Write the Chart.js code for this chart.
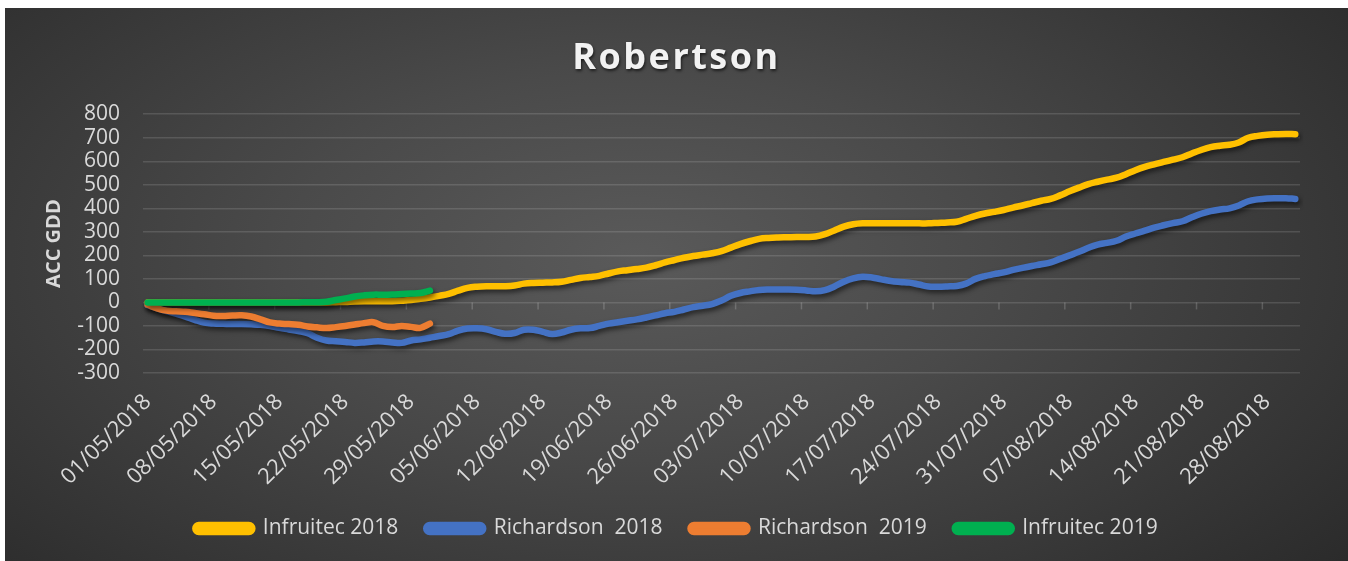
<!DOCTYPE html>
<html>
<head>
<meta charset="utf-8">
<script src="https://cdn.jsdelivr.net/npm/chart.js@4"></script>
<style>
  html, body { margin: 0; padding: 0; background: #ffffff; }
  #wrap {
    position: absolute; left: 5px; top: 8px; width: 1343px; height: 553px;
    background: radial-gradient(ellipse 75% 95% at 47% 45%, #5a5a5a 0%, #4a4a4a 35%, #262626 100%);
  }
</style>
</head>
<body>
<div id="wrap"><canvas id="gddChart"></canvas></div>
<script>
// Daily categories 01/05/2018 - 31/08/2018
const dateLabels = [
  "01/05/2018","02/05/2018","03/05/2018","04/05/2018","05/05/2018","06/05/2018","07/05/2018","08/05/2018","09/05/2018","10/05/2018",
  "11/05/2018","12/05/2018","13/05/2018","14/05/2018","15/05/2018","16/05/2018","17/05/2018","18/05/2018","19/05/2018","20/05/2018",
  "21/05/2018","22/05/2018","23/05/2018","24/05/2018","25/05/2018","26/05/2018","27/05/2018","28/05/2018","29/05/2018","30/05/2018",
  "31/05/2018","01/06/2018","02/06/2018","03/06/2018","04/06/2018","05/06/2018","06/06/2018","07/06/2018","08/06/2018","09/06/2018",
  "10/06/2018","11/06/2018","12/06/2018","13/06/2018","14/06/2018","15/06/2018","16/06/2018","17/06/2018","18/06/2018","19/06/2018",
  "20/06/2018","21/06/2018","22/06/2018","23/06/2018","24/06/2018","25/06/2018","26/06/2018","27/06/2018","28/06/2018","29/06/2018",
  "30/06/2018","01/07/2018","02/07/2018","03/07/2018","04/07/2018","05/07/2018","06/07/2018","07/07/2018","08/07/2018","09/07/2018",
  "10/07/2018","11/07/2018","12/07/2018","13/07/2018","14/07/2018","15/07/2018","16/07/2018","17/07/2018","18/07/2018","19/07/2018",
  "20/07/2018","21/07/2018","22/07/2018","23/07/2018","24/07/2018","25/07/2018","26/07/2018","27/07/2018","28/07/2018","29/07/2018",
  "30/07/2018","31/07/2018","01/08/2018","02/08/2018","03/08/2018","04/08/2018","05/08/2018","06/08/2018","07/08/2018","08/08/2018",
  "09/08/2018","10/08/2018","11/08/2018","12/08/2018","13/08/2018","14/08/2018","15/08/2018","16/08/2018","17/08/2018","18/08/2018",
  "19/08/2018","20/08/2018","21/08/2018","22/08/2018","23/08/2018","24/08/2018","25/08/2018","26/08/2018","27/08/2018","28/08/2018",
  "29/08/2018","30/08/2018","31/08/2018"
];

// Accumulated GDD per station/season
const infruitec2018 = [
  0,0,0,0,0,0,0,0,0,0, 0,0,0,0,0,0,0,0,0,0,
  1,2,4,5,5,5,5,7,10,15, 21,28,36,50,62,67,69,69,69,72,
  80,83,84,85,88,96,104,108,113,123, 132,137,142,148,158,170,180,190,197,203,
  209,218,233,248,260,270,274,276,277,278, 278,280,290,306,322,332,336,336,336,336,
  336,336,336,336,338,340,343,355,368,378, 385,393,403,412,422,432,440,455,472,488,
  503,513,522,530,545,562,576,587,597,607, 617,633,648,660,666,670,680,700,708,713,
  715,716,715
];
const richardson2018 = [
  -12,-25,-37,-48,-60,-74,-86,-90,-91,-92, -92,-93,-95,-100,-108,-115,-122,-131,-150,-162,
  -165,-168,-172,-170,-166,-166,-170,-172,-162,-157, -150,-143,-135,-120,-111,-110,-114,-125,-133,-130,
  -116,-116,-125,-134,-128,-116,-110,-109,-100,-90, -84,-78,-72,-64,-55,-46,-40,-30,-20,-14,
  -7,8,28,40,47,53,55,55,55,54, 51,47,52,68,88,102,109,106,98,91,
  87,84,76,68,67,68,70,80,100,112, 120,128,138,147,155,162,170,185,200,215,
  232,246,253,262,280,293,305,318,328,337, 345,362,377,388,395,400,412,430,438,442,
  443,443,440
];
const richardson2019 = [
  -10,-25,-35,-38,-40,-45,-50,-57,-58,-56, -55,-60,-72,-85,-90,-92,-95,-102,-106,-109,
  -105,-100,-94,-88,-84,-100,-105,-100,-104,-108, -90
];
const infruitec2019 = [
  0,0,0,0,0,0,0,0,0,0, 0,0,0,0,0,0,0,1,1,3,
  10,17,25,30,33,33,34,36,38,40, 50
];

const seriesNames = ["Infruitec 2018", "Richardson  2018", "Richardson  2019", "Infruitec 2019"];
const seriesColors = ["#ffc000", "#4472c4", "#ed7d31", "#00b050"];

const textColor = "#d9d9d9";
const gridColor = "rgba(255,255,255,0.13)";

// small tick marks on the zero line at every labelled week, then drop shadow for lines
const axisTicksAndShadow = {
  id: "axisTicksAndShadow",
  afterInit(chart) {
    // letter spaced, shadowed title like the Excel style
    const block = chart.titleBlock;
    if (block) {
      const origDraw = block.draw;
      block.draw = function () {
        const c = this.ctx;
        c.save();
        c.letterSpacing = "2.5px";
        c.shadowColor = "rgba(0,0,0,0.6)";
        c.shadowBlur = 3;
        c.shadowOffsetX = 1;
        c.shadowOffsetY = 2;
        origDraw.apply(this, arguments);
        c.restore();
      };
    }
  },
  beforeDatasetsDraw(chart) {
    const ctx = chart.ctx;
    const x = chart.scales.x;
    const y0 = chart.scales.y.getPixelForValue(0);
    ctx.save();
    ctx.strokeStyle = "rgba(255,255,255,0.18)";
    ctx.lineWidth = 1.5;
    for (let i = 7; i < dateLabels.length; i += 7) {
      const px = (x.getPixelForValue(i - 1) + x.getPixelForValue(i)) / 2;
      ctx.beginPath();
      ctx.moveTo(px, y0);
      ctx.lineTo(px, y0 + 7);
      ctx.stroke();
    }
    ctx.restore();
    ctx.save();
    ctx.shadowColor = "rgba(0,0,0,0.55)";
    ctx.shadowBlur = 5;
    ctx.shadowOffsetX = 2;
    ctx.shadowOffsetY = 3;
  },
  afterDatasetsDraw(chart) {
    chart.ctx.restore();
  },
};

function makeDataset(idx, data) {
  return {
    label: seriesNames[idx],
    data: data,
    borderColor: seriesColors[idx],
    backgroundColor: seriesColors[idx],
    borderWidth: 6.5,
    pointRadius: 0,
    tension: 0.4,
    borderCapStyle: "round",
    borderJoinStyle: "round",
    order: 4 - idx,
  };
}

const ctx = document.getElementById("gddChart").getContext("2d");
new Chart(ctx, {
  type: "line",
  data: {
    labels: dateLabels,
    datasets: [
      makeDataset(0, infruitec2018),
      makeDataset(1, richardson2018),
      makeDataset(2, richardson2019),
      makeDataset(3, infruitec2019),
    ],
  },
  options: {
    responsive: true,
    maintainAspectRatio: false,
    animation: false,
    layout: { padding: { left: 0, right: 0, top: 0, bottom: 12 } },
    scales: {
      x: {
        offset: true,
        grid: { display: false },
        border: { display: false },
        ticks: {
          autoSkip: false,
          maxRotation: 45,
          minRotation: 45,
          padding: 8,
          color: textColor,
          font: { family: "Open Sans", size: 22 },
          callback: function (value, index) {
            return index % 7 === 0 ? dateLabels[index] : "";
          },
        },
        afterFit(scale) {
          scale.height = 117;
        },
      },
      y: {
        min: -300,
        max: 800,
        grid: { color: gridColor, lineWidth: 1.5, drawTicks: false },
        border: { display: false },
        ticks: {
          stepSize: 100,
          autoSkip: false,
          padding: 23,
          color: textColor,
          font: { family: "Open Sans", size: 21 },
        },
        title: {
          display: true,
          text: "ACC GDD",
          color: textColor,
          font: { family: "Open Sans", size: 20, weight: "bold" },
          padding: { top: 37, bottom: 0 },
        },
        afterFit(scale) {
          scale.width = 138;
        },
      },
      // empty right-hand box keeps the plot clear of the right edge
      yRight: {
        position: "right",
        display: true,
        grid: { display: false },
        border: { display: false },
        ticks: { display: false },
        afterFit(scale) {
          scale.width = 48;
        },
      },
    },
    plugins: {
      title: {
        display: true,
        text: "Robertson",
        color: "#f2f2f2",
        font: { family: "Open Sans", size: 36, weight: "bold" },
        padding: { top: 29, bottom: 34 },
      },
      legend: {
        position: "bottom",
        labels: {
          color: textColor,
          font: { family: "Open Sans", size: 21 },
          boxWidth: 57,
          boxHeight: 7,
          useBorderRadius: true,
          borderRadius: 3.5,
          padding: 28,
          sort: (a, b) => a.datasetIndex - b.datasetIndex,
        },
      },
      tooltip: { enabled: false },
    },
  },
  plugins: [axisTicksAndShadow],
});
</script>
</body>
</html>
